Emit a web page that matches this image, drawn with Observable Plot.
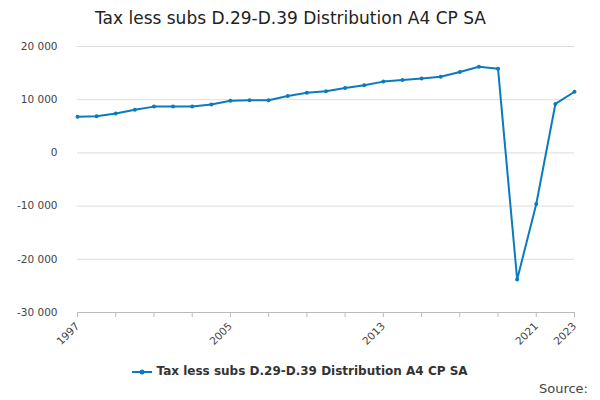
<!DOCTYPE html>
<html><head><meta charset="utf-8">
<script src="https://cdn.jsdelivr.net/npm/d3@7"></script>
<script src="https://cdn.jsdelivr.net/npm/@observablehq/plot@0.6"></script>
<style>
body{margin:0;font-family:"DejaVu Sans",sans-serif;background:#fff;width:600px;height:400px;position:relative}
#t{height:36px;line-height:36px;padding-left:95px;font-size:17px;color:#222}
#lg{position:absolute;top:364px;left:0;width:600px;text-align:center;font-size:12px;font-weight:bold;color:#333}
#src{position:absolute;top:381px;right:12px;font-size:13px;color:#444}
</style></head><body>
<div id="t">Tax less subs D.29-D.39 Distribution A4 CP SA</div>
<div id="c"></div>
<div id="lg"><svg width="20" height="10" style="vertical-align:middle"><line x1="0" y1="5" x2="20" y2="5" stroke="#0a7bbd" stroke-width="2"/><circle cx="10" cy="5" r="2.5" fill="#0a7bbd"/></svg> Tax less subs D.29-D.39 Distribution A4 CP SA</div>
<div id="src">Source:</div>
<script>
const years = d3.range(1997, 2024);
const values = [6800,6900,7400,8100,8700,8700,8700,9100,9800,9900,9900,10700,11300,11600,12200,12700,13400,13700,14000,14300,15200,16200,15800,-23800,-9600,9200,11500];
const labeledYears = [1997,2005,2013,2021,2023];
const yTicks = [-30000,-20000,-10000,0,10000,20000];
const data = years.map((y,i)=>({year:y,value:values[i]}));
const fmt = v => v===0?"0":d3.format(",")(v).replace(/,/g," ").replace("−","-");
const tickYears = d3.range(1997,2024,2);
const chart = Plot.plot({
  width:600,height:320,marginTop:10,marginLeft:77,marginRight:26,marginBottom:44,
  style:{fontFamily:"DejaVu Sans",fontSize:"10.5px",color:"#444"},
  x:{domain:[1997,2023],label:null},
  y:{domain:[-30000,20000],label:null,ticks:yTicks,tickFormat:fmt},
  marks:[
    Plot.gridY(yTicks,{stroke:"#ddd",strokeOpacity:1}),
    Plot.axisY(yTicks,{tickSize:0,tickPadding:20,tickFormat:fmt}),
    Plot.axisX(tickYears,{tickSize:5,stroke:"#bbb",tickFormat:d=>labeledYears.includes(d)?String(d):"",tickRotate:-45}),
    Plot.ruleY([-30000],{stroke:"#bbb"}),
    Plot.line(data,{x:"year",y:"value",stroke:"#0a7bbd",strokeWidth:2}),
    Plot.dot(data,{x:"year",y:"value",fill:"#0a7bbd",r:2})
  ]
});
document.getElementById("c").appendChild(chart);
</script></body></html>
